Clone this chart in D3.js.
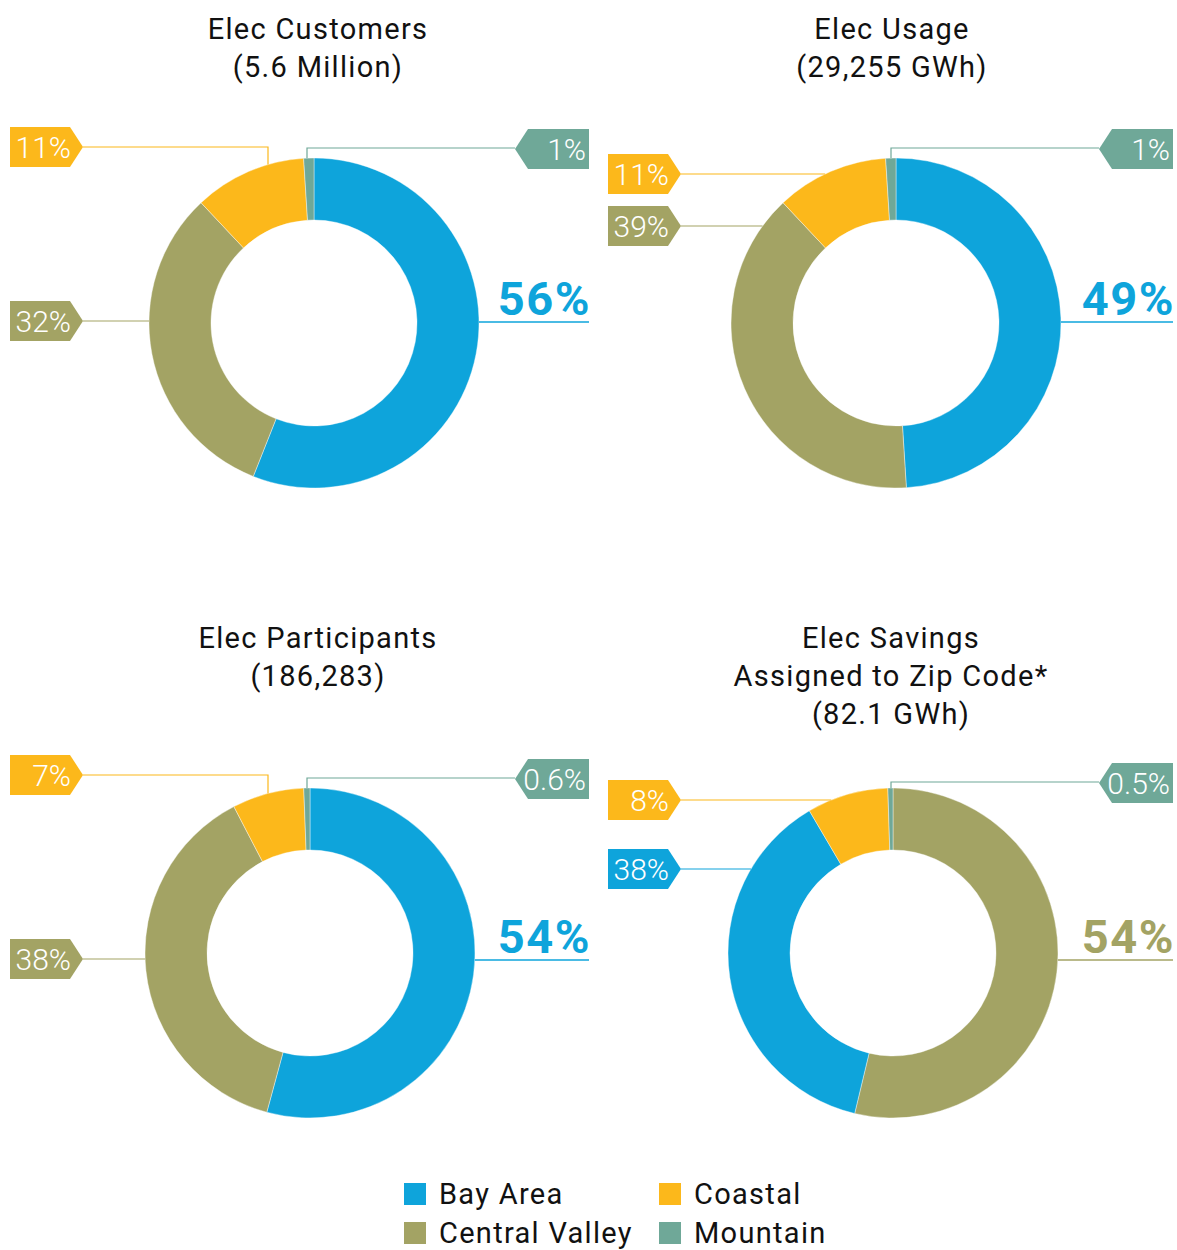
<!DOCTYPE html>
<html>
<head>
<meta charset="utf-8">
<script src="https://cdn.jsdelivr.net/npm/d3@7.9.0/dist/d3.min.js"></script>
<style>
  body { margin: 0; background: #fff; }
  svg { display: block; font-family: Roboto, "DejaVu Sans", sans-serif; }
</style>
</head>
<body>
<svg id="chart" width="1177" height="1250"></svg>
<script>
// data
const regions = ['Bay Area', 'Central Valley', 'Coastal', 'Mountain'];
const regionColors = ['#0ea4db', '#a3a364', '#fcb81b', '#6fa898'];

const customersPct = [56, 32, 11, 1];      // Bay, Central Valley, Coastal, Mountain
const usagePct = [49, 39, 11, 1];
const participantsPct = [54, 38, 7, 0.6];
const savingsPct = [54, 38, 8, 0.5];        // Central Valley, Bay, Coastal, Mountain
const savingsOrder = ['Central Valley', 'Bay Area', 'Coastal', 'Mountain'];

const chartTitles = [
  ['Elec Customers', '(5.6 Million)'],
  ['Elec Usage', '(29,255 GWh)'],
  ['Elec Participants', '(186,283)'],
  ['Elec Savings', 'Assigned to Zip Code*', '(82.1 GWh)']
];

const color = d3.scaleOrdinal().domain(regions).range(regionColors);

// layout of each donut and its labels
const charts = [
  { values: customersPct, order: regions, title: chartTitles[0], cx: 314, cy: 323, left: 10, right: 589, titleX: 318, titleY: 39, lineY: 322,
    big: 'Bay Area', tags: [ { region: 'Coastal', y: 147, elbow: 268 }, { region: 'Central Valley', y: 321 }, { region: 'Mountain', y: 149, elbow: 307, side: 'right' } ] },
  { values: usagePct, order: regions, title: chartTitles[1], cx: 896, cy: 323, left: 608, right: 1173, titleX: 892, titleY: 39, lineY: 322,
    big: 'Bay Area', tags: [ { region: 'Coastal', y: 174 }, { region: 'Central Valley', y: 226 }, { region: 'Mountain', y: 149, elbow: 891, side: 'right' } ] },
  { values: participantsPct, order: regions, title: chartTitles[2], cx: 310, cy: 953, left: 10, right: 589, titleX: 318, titleY: 648, lineY: 960,
    big: 'Bay Area', tags: [ { region: 'Coastal', y: 775, elbow: 268 }, { region: 'Central Valley', y: 959 }, { region: 'Mountain', y: 779, elbow: 307, side: 'right' } ] },
  { values: savingsPct, order: savingsOrder, title: chartTitles[3], cx: 893, cy: 953, left: 608, right: 1173, titleX: 891, titleY: 648, lineY: 960,
    big: 'Central Valley', tags: [ { region: 'Coastal', y: 800 }, { region: 'Bay Area', y: 869 }, { region: 'Mountain', y: 783, elbow: 891, side: 'right' } ] }
];

const outerR = 165, innerR = 103;
const svg = d3.select('#chart');
const pie = d3.pie().sort(null).value(d => d.value);
const arc = d3.arc().innerRadius(innerR).outerRadius(outerR);
const fmt = v => `${v}%`;

charts.forEach(c => {
  const data = c.order.map((r, i) => ({ region: r, value: c.values[i] }));
  const g = svg.append('g');

  // title
  g.selectAll('text.title')
   .data(c.title)
   .join('text')
   .attr('class', 'title')
   .attr('x', c.titleX)
   .attr('y', (_, i) => c.titleY + i * 38)
   .attr('text-anchor', 'middle')
   .attr('font-size', 29)
   .attr('letter-spacing', 1.3)
   .attr('fill', '#111')
   .text(d => d);

  // donut
  g.append('g')
   .attr('transform', `translate(${c.cx},${c.cy})`)
   .selectAll('path')
   .data(pie(data))
   .join('path')
   .attr('d', arc)
   .attr('fill', d => color(d.data.region))
   .attr('stroke', '#fff')
   .attr('stroke-width', 0.4);

  const valueOf = r => data.find(d => d.region === r).value;

  // tag labels with leader lines
  c.tags.forEach(t => {
    const col = color(t.region);
    const right = t.side === 'right';
    let path;
    if (right) {
      const tip = c.right - 74;
      const ay = c.cy - Math.sqrt(outerR * outerR - (t.elbow - c.cx) ** 2);
      path = `M${tip},${t.y - 1}H${t.elbow}V${ay}`;
    } else {
      const tip = c.left + 73;
      if (t.elbow != null) {
        const ay = c.cy - Math.sqrt(outerR * outerR - (t.elbow - c.cx) ** 2);
        path = `M${tip},${t.y}H${t.elbow}V${ay}`;
      } else {
        const ax = c.cx - Math.sqrt(outerR * outerR - (t.y - c.cy) ** 2);
        path = `M${tip},${t.y}H${ax}`;
      }
    }
    g.append('path').attr('d', path).attr('fill', 'none').attr('stroke', col).attr('stroke-width', 1.2);

    let pts;
    if (right) {
      const x1 = c.right, x0 = c.right - 61, tip = c.right - 74;
      pts = [[x1, t.y - 20], [x0, t.y - 20], [tip, t.y], [x0, t.y + 20], [x1, t.y + 20]];
    } else {
      const x0 = c.left, x1 = c.left + 60, tip = c.left + 73;
      pts = [[x0, t.y - 20], [x1, t.y - 20], [tip, t.y], [x1, t.y + 20], [x0, t.y + 20]];
    }
    g.append('polygon').attr('points', pts.map(p => p.join(',')).join(' ')).attr('fill', col);
    g.append('text')
     .attr('x', right ? c.right - 3 : c.left + 61)
     .attr('y', t.y + 11)
     .attr('text-anchor', 'end')
     .attr('font-size', 30)
     .attr('font-weight', 300)
     .attr('fill', '#fff')
     .text(fmt(valueOf(t.region)));
  });

  // big label
  const bcol = color(c.big);
  const bx = c.cx + Math.sqrt(outerR * outerR - (c.lineY - c.cy) ** 2);
  g.append('line')
   .attr('x1', bx).attr('x2', c.right)
   .attr('y1', c.lineY).attr('y2', c.lineY)
   .attr('stroke', bcol).attr('stroke-width', 1.5);
  g.append('text')
   .attr('x', c.right + 2)
   .attr('y', c.lineY - 7)
   .attr('text-anchor', 'end')
   .attr('font-size', 47)
   .attr('font-weight', 700)
   .attr('letter-spacing', 1.5)
   .attr('fill', bcol)
   .text(fmt(valueOf(c.big)));
});

// legend
const legendItems = [
  { region: 'Bay Area', x: 404, y: 1183 },
  { region: 'Coastal', x: 659, y: 1183 },
  { region: 'Central Valley', x: 404, y: 1222 },
  { region: 'Mountain', x: 659, y: 1222 }
];
const lg = svg.append('g').selectAll('g').data(legendItems).join('g')
  .attr('transform', d => `translate(${d.x},${d.y})`);
lg.append('rect').attr('width', 22).attr('height', 22).attr('fill', d => color(d.region));
lg.append('text').attr('x', 35).attr('y', 21).attr('font-size', 29).attr('letter-spacing', 1.3)
  .attr('fill', '#111').text(d => d.region);
</script>
</body>
</html>
